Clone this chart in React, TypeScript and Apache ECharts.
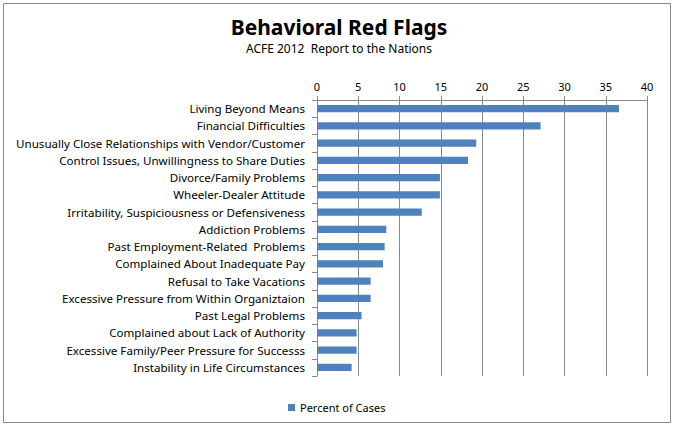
import React, { useEffect, useRef } from "react";
import * as echarts from "echarts";

const categories = [
  "Living Beyond Means",
  "Financial Difficulties",
  "Unusually Close Relationships with Vendor/Customer",
  "Control Issues, Unwillingness to Share Duties",
  "Divorce/Family Problems",
  "Wheeler-Dealer Attitude",
  "Irritability, Suspiciousness or Defensiveness",
  "Addiction Problems",
  "Past Employment-Related  Problems",
  "Complained About Inadequate Pay",
  "Refusal to Take Vacations",
  "Excessive Pressure from Within Organiztaion",
  "Past Legal Problems",
  "Complained about Lack of Authority",
  "Excessive Family/Peer Pressure for Successs",
  "Instability in Life Circumstances",
];

const percentOfCases = [36.6, 27.1, 19.3, 18.3, 14.9, 14.9, 12.7, 8.4, 8.2, 8.0, 6.5, 6.5, 5.4, 4.8, 4.8, 4.2];

const seriesName = "Percent of Cases";
const titleText = "Behavioral Red Flags";
const subtitleText = "ACFE 2012  Report to the Nations";

const FONT = "'Noto Sans', sans-serif";

export default function App() {
  const ref = useRef<HTMLDivElement>(null);
  useEffect(() => {
    if (!ref.current) return;
    const chart = echarts.init(ref.current, null, { renderer: "svg" });
    chart.setOption({
      animation: false,
      backgroundColor: "#ffffff",
      title: {
        text: titleText,
        subtext: subtitleText,
        left: "center",
        top: 11,
        itemGap: 5,
        textStyle: { fontFamily: FONT, fontSize: 21, fontWeight: "bold", color: "#000" },
        subtextStyle: { fontFamily: FONT, fontSize: 12, color: "#000" },
      },
      legend: {
        left: 283,
        top: 397,
        itemWidth: 7,
        itemHeight: 7,
        icon: "rect",
        itemGap: 4,
        textStyle: { fontFamily: FONT, fontSize: 11, color: "#000" },
        data: [seriesName],
      },
      graphic: [
        {
          type: "rect",
          shape: { x: 3.5, y: 3.5, width: 667, height: 419 },
          style: { fill: "none", stroke: "#888", lineWidth: 1 },
          silent: true,
        },
      ],
      grid: { left: 317, right: 31, top: 100, bottom: 51, containLabel: false },
      xAxis: {
        type: "value",
        position: "top",
        min: 0,
        max: 40,
        interval: 5,
        axisLine: { show: true, lineStyle: { color: "#888" } },
        axisTick: { show: true, length: 4, lineStyle: { color: "#888" } },
        axisLabel: { fontFamily: FONT, fontSize: 11, color: "#000", margin: 8 },
        splitLine: { show: true, lineStyle: { color: "#888", width: 1 } },
      },
      yAxis: {
        type: "category",
        inverse: true,
        data: categories,
        axisLine: { show: true, lineStyle: { color: "#888" } },
        axisTick: { show: true, length: 5, lineStyle: { color: "#888" } },
        axisLabel: { fontFamily: FONT, fontSize: 11.6, color: "#000", margin: 12 },
        splitLine: { show: false },
      },
      series: [
        {
          name: seriesName,
          type: "bar",
          data: percentOfCases,
          barCategoryGap: "58%",
          itemStyle: { color: "#4F81BD" },
        },
      ],
    });
    return () => chart.dispose();
  }, []);
  return (
    <div
      ref={ref}
      style={{ position: "fixed", left: 0, top: 0, width: 678, height: 427 }}
    />
  );
}
